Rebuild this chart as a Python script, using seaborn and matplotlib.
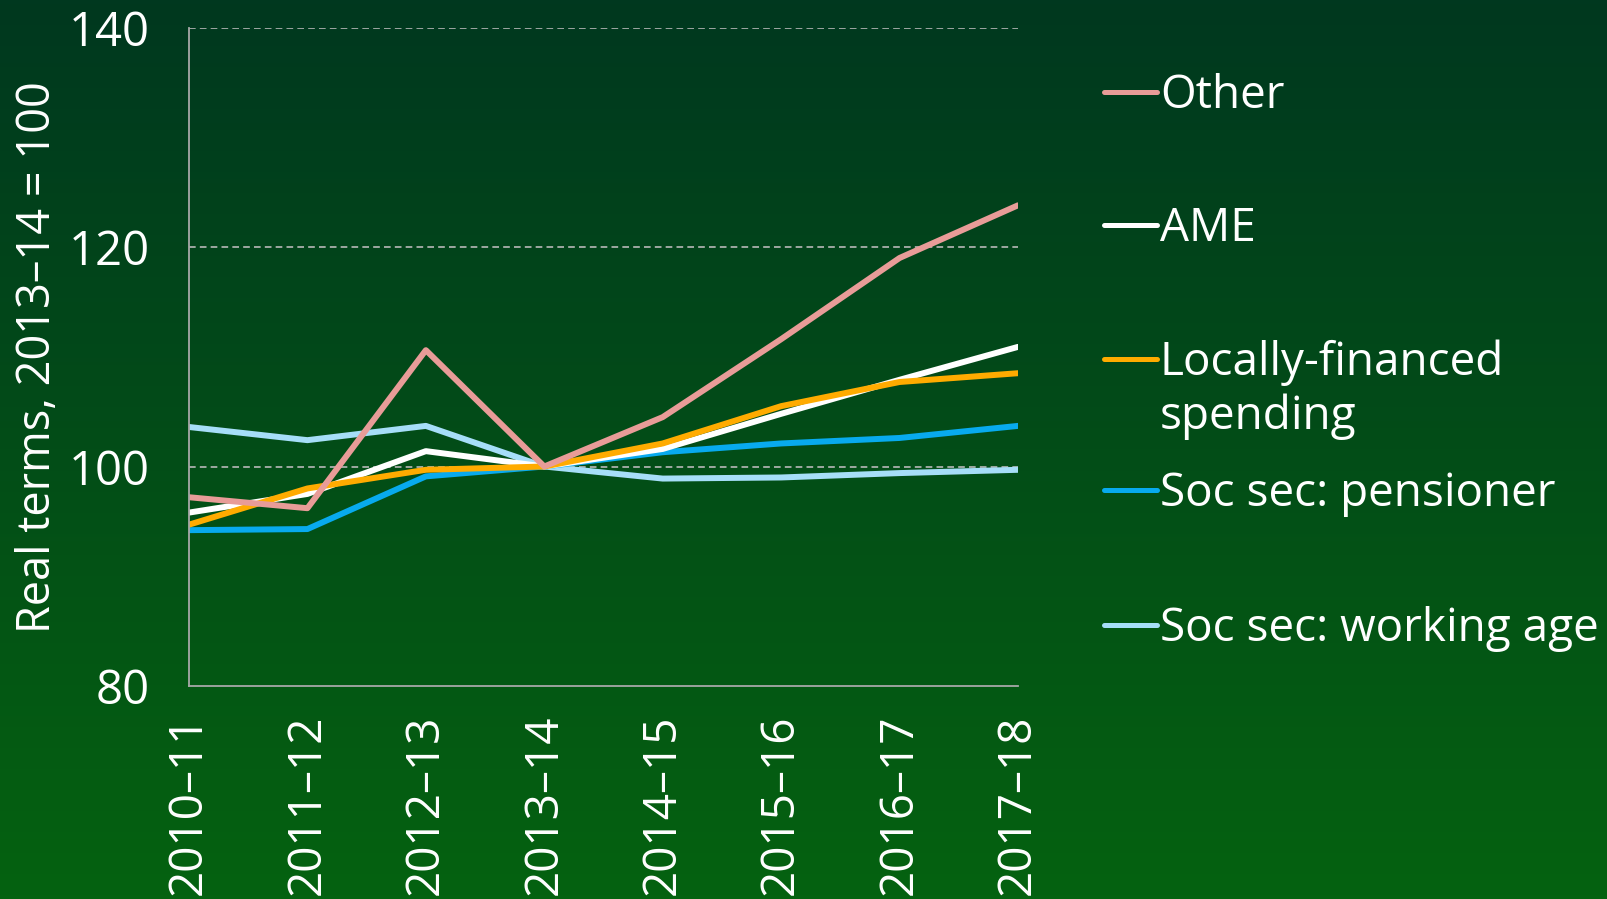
import numpy as np
import pandas as pd
import matplotlib
matplotlib.use("Agg")
import matplotlib.pyplot as plt
from matplotlib.lines import Line2D
import seaborn as sns

years = ["2010–11", "2011–12", "2012–13", "2013–14", "2014–15", "2015–16", "2016–17", "2017–18"]
other = [97.2, 96.2, 110.6, 100.0, 104.5, 111.6, 119.0, 123.8]
ame = [95.8, 97.5, 101.4, 100.0, 101.6, 104.8, 107.9, 110.9]
locally = [94.7, 98.0, 99.7, 100.0, 102.1, 105.5, 107.7, 108.5]
pensioner = [94.2, 94.3, 99.1, 100.0, 101.3, 102.1, 102.6, 103.7]
working_age = [103.6, 102.4, 103.7, 100.0, 98.9, 99.0, 99.4, 99.7]

series_names = ["Other", "AME", "Locally-financed\nspending", "Soc sec: pensioner", "Soc sec: working age"]
series_values = [other, ame, locally, pensioner, working_age]
colors = ["#e89c98", "#ffffff", "#ffab00", "#08aaee", "#a6def8"]
draw_order = ["Soc sec: working age", "Soc sec: pensioner", "AME", "Locally-financed\nspending", "Other"]
y_ticks = [80, 100, 120, 140]
y_label = "Real terms, 2013–14 = 100"

rows = []
for name, vals in zip(series_names, series_values):
    for yr, v in zip(years, vals):
        rows.append({"year": yr, "value": v, "series": name})
df = pd.DataFrame(rows)
palette = dict(zip(series_names, colors))

sns.set_theme(style="white")
plt.rcParams["font.family"] = ["Open Sans", "DejaVu Sans"]

W, H = 1607, 899
fig = plt.figure(figsize=(W / 100, H / 100), dpi=100)

# gradient background
bg = fig.add_axes([0, 0, 1, 1], zorder=-10)
top = np.array([0x00, 0x38, 0x1f]) / 255
bot = np.array([0x05, 0x62, 0x10]) / 255
t = np.linspace(0, 1, 256)[:, None]
grad = (top[None, :] * (1 - t) + bot[None, :] * t)[:, None, :]
bg.imshow(grad, aspect="auto", extent=[0, 1, 0, 1])
bg.set_axis_off()

ax = fig.add_axes([189 / W, 1 - 686 / H, (1018 - 189) / W, (686 - 27.5) / H])
ax.patch.set_alpha(0)

sns.lineplot(data=df, x="year", y="value", hue="series", hue_order=draw_order,
             palette=palette, sort=False, linewidth=4.3, ax=ax, legend=False)
for ln in ax.lines:
    ln.set_linewidth(4.3)
    ln.set_solid_capstyle("round")
    ln.set_solid_joinstyle("round")

ax.set_xlim(0, len(years) - 1)
ax.set_ylim(80, 140)
ax.set_yticks(y_ticks)
ax.set_yticklabels([str(v) for v in y_ticks])
ax.set_xticks(range(len(years)))
ax.set_xticklabels(years, rotation=90)

for yv in y_ticks[1:]:
    ax.axhline(yv, color="#b8b8b8", lw=1.2, ls=(0, (4, 2.5)), zorder=0)

for s in ["top", "right"]:
    ax.spines[s].set_visible(False)
for s in ["left", "bottom"]:
    ax.spines[s].set_color("#a8a8a8")
    ax.spines[s].set_linewidth(1.3)

ax.tick_params(axis="both", which="major", length=10.5, width=1.2, color="#a8a8a8",
               labelcolor="white", labelsize=34, direction="out")
ax.tick_params(axis="y", pad=18)
ax.tick_params(axis="x", pad=10, labelsize=33)
ax.set_xlabel("")
ax.set_ylabel(y_label, color="white", fontsize=32.5, labelpad=5)

# legend on right
row_centers = [92, 225, 359, 490, 625]
for name, col, yc in zip(series_names, colors, row_centers):
    yf = 1 - yc / H
    fig.add_artist(Line2D([1104 / W, 1157 / W], [yf, yf], color=col, lw=3.6,
                          solid_capstyle="round", transform=fig.transFigure))
    fig.text(1160 / W, 1 - (yc - 19) / H, name, color="white", fontsize=33,
             ha="left", va="top", linespacing=1.2)

fig.savefig("out.png", dpi=100)
